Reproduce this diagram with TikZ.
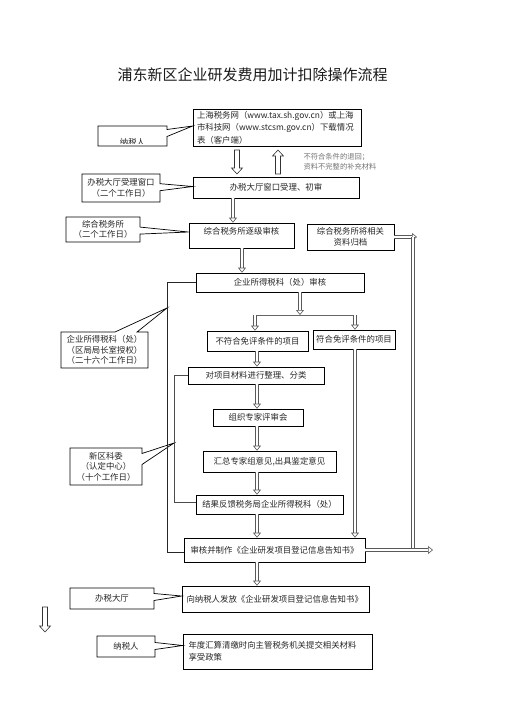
\documentclass[tikz,border=0pt]{standalone}
\usepackage{fontspec}
\setmainfont{Noto Sans CJK SC}
\usetikzlibrary{arrows.meta,shapes.callouts,calc}
\begin{document}
\begin{tikzpicture}[x=1pt,y=-1pt,
  txt/.style={font=\fontsize{8.4}{11}\selectfont, text=black!85},
  box/.style={draw=black, line width=0.7pt, inner sep=1pt, txt, align=center},
  call/.style={rectangle callout, draw=black, line width=0.7pt, fill=white, align=center, inner sep=1pt,
     font=\fontsize{8.4}{10.5}\selectfont, text=black!85, callout pointer width=7pt},
  dbl/.style={draw=black!65, double=white, double distance=2.2pt, line width=0.6pt,
     -{Triangle[open, length=5pt, width=8pt, line width=0.6pt]}},
  dblplain/.style={draw=black!65, double=white, double distance=2.2pt, line width=0.6pt},
  blkline/.style={draw=black!80, fill=white, line width=0.6pt, line join=miter},
  bracket/.style={draw=black!85, line width=0.7pt},
  note/.style={font=\fontsize{7.3}{10}\selectfont, text=black!55, align=left}
]
\useasboundingbox (0,0) rectangle (504,713);

% title
\node[font=\fontsize{15}{18}\selectfont, text=black!90] (title) at (252.5,75) {浦东新区企业研发费用加计扣除操作流程};

% main boxes
\node[box, minimum width=168, minimum height=37, text width=160, align=left, font=\fontsize{8.4}{12.5}\selectfont] (A) at (277,127.5)
  {上海税务网（www.tax.sh.gov.cn）或上海\\市科技网（www.stcsm.gov.cn）下载情况\\表（客户端）};
\node[box, minimum width=166, minimum height=21] (B) at (276,187.5) {办税大厅窗口受理、初审};
\node[box, minimum width=105, minimum height=25] (C) at (241.5,235.5) {};
\node[txt] (Ct) at (241.5,231) {综合税务所逐级审核};
\node[box, minimum width=87, minimum height=26, font=\fontsize{8.4}{10.5}\selectfont] (D) at (350.5,237) {综合税务所将相关\\资料归档};
\node[box, minimum width=168, minimum height=19] (E) at (280,282.5) {企业所得税科（处）审核};
\node[box, minimum width=101, minimum height=20] (F) at (257.5,341) {不符合免评条件的项目};
\node[box, minimum width=82, minimum height=19] (G) at (354,339.5) {符合免评条件的项目};
\node[box, minimum width=136, minimum height=17] (H) at (256,375.5) {对项目材料进行整理、分类};
\node[box, minimum width=90, minimum height=17] (I) at (258,417.5) {组织专家评审会};
\node[box, minimum width=133, minimum height=21] (Hh) at (269.5,461.5) {汇总专家组意见,出具鉴定意见};
\node[box, minimum width=147, minimum height=19] (J) at (269.5,504.5) {结果反馈税务局企业所得税科（处）};
\node[box, minimum width=181, minimum height=24] (K) at (274.5,550) {审核并制作《企业研发项目登记信息告知书》};
\node[box, minimum width=187, minimum height=26, text width=178, align=left] (L) at (275.5,599) {向纳税人发放《企业研发项目登记信息告知书》};
\node[box, minimum width=189, minimum height=35, text width=178, align=left, font=\fontsize{8.4}{12}\selectfont] (M) at (277.5,651.5) {年度汇算清缴时向主管税务机关提交相关材料\\享受政策};

% note
\node[note, anchor=north west] (nt) at (300,150) {不符合条件的退回；\\资料不完整的补充材料};

% bracket points
\coordinate (ob) at (167,308);
\coordinate (ib) at (174,443);

% callouts
\node[call, minimum width=69, minimum height=20, callout absolute pointer={($(A.west)+(0,-1.5)$)}] (c1) at (132.5,136) {};
\begin{scope}
  \clip (99,127) rectangle (166,143);
  \node[txt] (c1t) at (132.5,142.5) {纳税人};
\end{scope}
\node[call, minimum width=78, minimum height=28, callout absolute pointer={($(B.west)+(0,-1)$)}] (c2) at (121,188) {办税大厅受理窗口\\（二个工作日）};
\node[call, minimum width=74, minimum height=25, callout absolute pointer={($(C.west)+(0,-3.5)$)}] (c3) at (103,229.5) {综合税务所\\（二个工作日）};
\node[call, minimum width=87, minimum height=36, callout pointer width=22pt, callout absolute pointer={(ob)}] (c4) at (104.5,350) {企业所得税科（处）\\（区局局长室授权）\\（二十六个工作日）};
\node[call, minimum width=72, minimum height=37, callout pointer width=11pt, callout absolute pointer={(ib)}] (c5) at (106,466.5) {新区科委\\（认定中心）\\（十个工作日）};
\node[call, minimum width=84, minimum height=21, callout absolute pointer={($(L.west)+(0,-3)$)}] (c6) at (112,598.5) {办税大厅};
\node[call, minimum width=58, minimum height=21, callout absolute pointer={($(M.west)+(0,-6)$)}] (c7) at (126,646.5) {纳税人};

% hollow block arrows
\draw[blkline] (234.5,150) -- ++(5,0) -- ++(0,18) -- ++(3,0) -- ++(-5.5,6) -- ++(-5.5,-6) -- ++(3,0) -- cycle;
\draw[blkline] (275.5,174) -- ++(5,0) -- ++(0,-18) -- ++(3,0) -- ++(-5.5,-6) -- ++(-5.5,6) -- ++(3,0) -- cycle;
\draw[blkline] (42.5,607) -- ++(5,0) -- ++(0,19) -- ++(3,0) -- ++(-5.5,6) -- ++(-5.5,-6) -- ++(3,0) -- cycle;

% double connectors
\draw[dbl] (233,0 |- B.south) -- (233,0 |- C.north);
\draw[dbl] (242,0 |- C.south) -- (242,0 |- E.north);
\draw[dbl] (300,0 |- E.south) -- (300,315);
\draw[draw=black!60, line width=1pt] (255,315) -- (355,315);
\draw[dbl] (255,315) -- (255,0 |- F.north);
\draw[dbl] (355,315) -- (355,0 |- G.north);
\draw[dbl] (257,0 |- F.south) -- (257,0 |- H.north);
\draw[dbl] (257,0 |- H.south) -- (257,0 |- I.north);
\draw[dbl] (257,0 |- I.south) -- (257,0 |- Hh.north);
\draw[dbl] (257,0 |- Hh.south) -- (257,0 |- J.north);
\draw[dbl] (257,0 |- J.south) -- (257,0 |- K.north);
\draw[dbl] (355,0 |- G.south) -- (355,0 |- K.north);
\draw[dbl] (257,0 |- K.south) -- (257,0 |- L.north);

% right side
\coordinate (rt) at (413,237);
\coordinate (rb) at (413,551);
\draw[dbl] (D.east) -- (417,237);
\draw[dblplain] (rt) -- (rb);
\draw[dbl] (K.east) -- (433,550);

% brackets
\draw[bracket] (E.west) -- (167,282.5) -- (167,552) -- (K.west |- 0,552);
\draw[bracket, draw=black!70] (H.west) -- (174,375.5) -- (174,502) -- (J.west |- 0,502);
\end{tikzpicture}
\end{document}
